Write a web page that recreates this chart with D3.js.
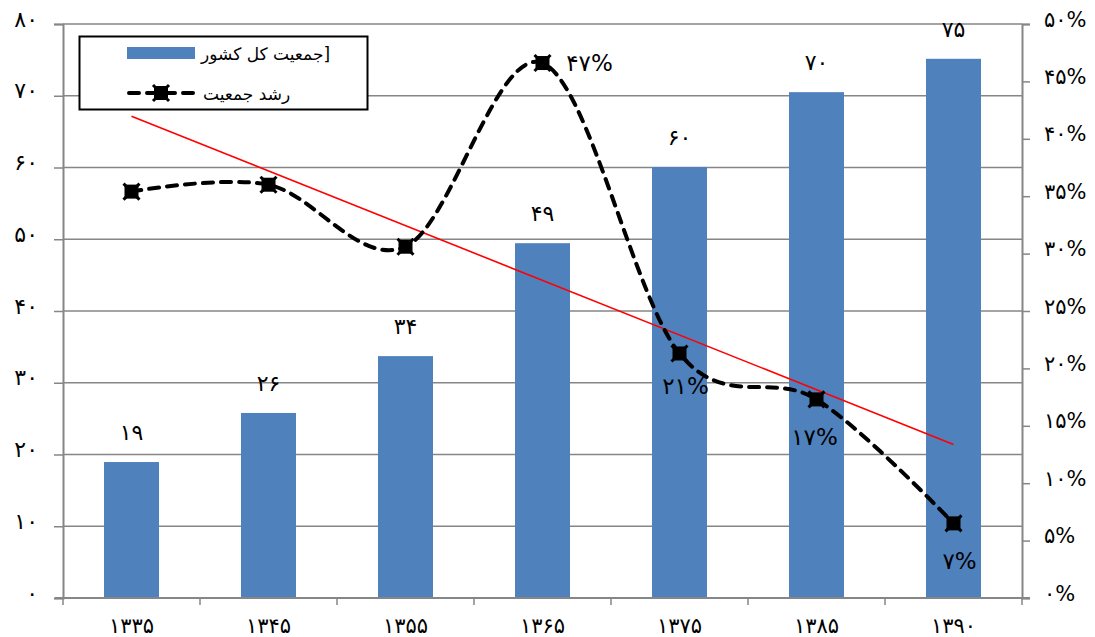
<!DOCTYPE html>
<html>
<head>
<meta charset="utf-8">
<script src="https://cdn.jsdelivr.net/npm/d3@7"></script>
<style>
  html, body { margin: 0; padding: 0; background: #fff; }
  svg { display: block; }
  text { font-family: "DejaVu Sans", "Noto Sans", sans-serif; fill: #000; }
</style>
</head>
<body>
<svg id="chart" width="1095" height="637"></svg>
<script>
// ---- data ----
const categories = ["۱۳۳۵", "۱۳۴۵", "۱۳۵۵", "۱۳۶۵", "۱۳۷۵", "۱۳۸۵", "۱۳۹۰"];
const population = [18.95, 25.79, 33.71, 49.45, 60.06, 70.50, 75.15];
const populationLabels = ["۱۹", "۲۶", "۳۴", "۴۹", "۶۰", "۷۰", "۷۵"];
const growth = [0.354, 0.360, 0.306, 0.466, 0.213, 0.173, 0.065];
const growthLabels = ["", "", "", "۴۷%", "۲۱%", "۱۷%", "۷%"];
const leftTicks = [0, 10, 20, 30, 40, 50, 60, 70, 80];
const leftTickLabels = ["۰", "۱۰", "۲۰", "۳۰", "۴۰", "۵۰", "۶۰", "۷۰", "۸۰"];
const rightTicks = [0, 0.05, 0.10, 0.15, 0.20, 0.25, 0.30, 0.35, 0.40, 0.45, 0.50];
const rightTickLabels = ["۰%", "۵%", "۱۰%", "۱۵%", "۲۰%", "۲۵%", "۳۰%", "۳۵%", "۴۰%", "۴۵%", "۵۰%"];
const legendLabels = ["جمعیت کل کشور]", "رشد جمعیت"];

// ---- layout ----
const svg = d3.select("#chart");
const plot = { left: 63, right: 1022, top: 24, bottom: 598 };
const axisColor = "#868686";
const barColor = "#4F81BD";

const xBand = d3.scaleBand().domain(categories).range([plot.left, plot.right]);
const yL = d3.scaleLinear().domain([0, 80]).range([plot.bottom, plot.top]);
const yR = d3.scaleLinear().domain([0, 0.5]).range([plot.bottom, plot.top]);
const cx = i => xBand(categories[i]) + xBand.bandwidth() / 2;

// gridlines
svg.append("g").selectAll("line").data(leftTicks.slice(1)).join("line")
  .attr("x1", plot.left).attr("x2", plot.right)
  .attr("y1", d => yL(d)).attr("y2", d => yL(d))
  .attr("stroke", axisColor).attr("stroke-width", 1.5);

// bars
svg.append("g").selectAll("rect").data(population).join("rect")
  .attr("x", (d, i) => cx(i) - 27.5)
  .attr("width", 55)
  .attr("y", d => yL(d))
  .attr("height", d => yL(0) - yL(d))
  .attr("fill", barColor);

// bar labels
svg.append("g").selectAll("text").data(population).join("text")
  .attr("x", (d, i) => cx(i))
  .attr("y", d => yL(d) - 22)
  .attr("text-anchor", "middle")
  .attr("font-size", 22)
  .text((d, i) => populationLabels[i]);

// left axis
const gL = svg.append("g").attr("transform", `translate(${plot.left},0)`)
  .call(d3.axisLeft(yL).tickValues(leftTicks).tickSize(9).tickPadding(16)
    .tickFormat((d, i) => leftTickLabels[i]));
gL.select(".domain").attr("stroke", axisColor).attr("stroke-width", 2);
gL.selectAll(".tick line").attr("stroke", axisColor).attr("stroke-width", 1.5);
gL.selectAll(".tick text").attr("font-size", 22).attr("font-family", "DejaVu Sans").attr("dy", "0.1em");

// right axis
const gR = svg.append("g").attr("transform", `translate(${plot.right},0)`)
  .call(d3.axisRight(yR).tickValues(rightTicks).tickSize(8).tickPadding(14)
    .tickFormat((d, i) => rightTickLabels[i]));
gR.select(".domain").attr("stroke", axisColor).attr("stroke-width", 2);
gR.selectAll(".tick line").attr("stroke", axisColor).attr("stroke-width", 1.5);
gR.selectAll(".tick text").attr("font-size", 21).attr("font-family", "DejaVu Sans").attr("dy", "0.1em");

// bottom axis
const boundaries = categories.map(c => xBand(c)).concat([plot.right]);
const gB = svg.append("g");
gB.append("line").attr("x1", plot.left - 8).attr("x2", plot.right + 8)
  .attr("y1", plot.bottom).attr("y2", plot.bottom)
  .attr("stroke", axisColor).attr("stroke-width", 2);
gB.selectAll("line.tk").data(boundaries).join("line").attr("class", "tk")
  .attr("x1", d => d).attr("x2", d => d)
  .attr("y1", plot.bottom).attr("y2", plot.bottom + 7)
  .attr("stroke", axisColor).attr("stroke-width", 1.5);
gB.selectAll("text").data(categories).join("text")
  .attr("x", d => xBand(d) + xBand.bandwidth() / 2)
  .attr("y", 633)
  .attr("text-anchor", "middle")
  .attr("font-size", 21)
  .text(d => d);

// trend line (linear regression of growth)
const n = growth.length;
const mx = d3.mean(d3.range(n));
const my = d3.mean(growth);
const sxy = d3.sum(growth, (g, i) => (i - mx) * (g - my));
const sxx = d3.sum(d3.range(n), i => (i - mx) * (i - mx));
const slope = sxy / sxx;
const icpt = my - slope * mx;
svg.append("line")
  .attr("x1", cx(0)).attr("y1", yR(icpt))
  .attr("x2", cx(n - 1)).attr("y2", yR(icpt + slope * (n - 1)))
  .attr("stroke", "#FF0000").attr("stroke-width", 1.6);

// growth line
const line = d3.line().x((d, i) => cx(i)).y(d => yR(d)).curve(d3.curveCardinal.tension(0));
svg.append("path").datum(growth)
  .attr("d", line)
  .attr("fill", "none").attr("stroke", "#000").attr("stroke-width", 4)
  .attr("stroke-dasharray", "10,8").attr("stroke-linecap", "round");

function marker(g, px, py) {
  g.append("rect").attr("x", px - 7).attr("y", py - 7).attr("width", 14).attr("height", 14).attr("fill", "#000");
  g.append("path").attr("d", `M${px - 8},${py - 8}L${px + 8},${py + 8}M${px + 8},${py - 8}L${px - 8},${py + 8}`)
    .attr("stroke", "#000").attr("stroke-width", 3);
}
const mg = svg.append("g");
growth.forEach((d, i) => marker(mg, cx(i), yR(d)));

// growth labels
const labelOffsets = [[0, 0], [0, 0], [0, 0], [47, 8], [6, 41], [-2, 46], [6, 46]];
svg.append("g").selectAll("text").data(growth).join("text")
  .attr("x", (d, i) => cx(i) + labelOffsets[i][0])
  .attr("y", (d, i) => yR(d) + labelOffsets[i][1])
  .attr("text-anchor", "middle")
  .attr("font-size", 23)
  .text((d, i) => growthLabels[i]);

// legend
const lg = svg.append("g");
lg.append("rect").attr("x", 79.5).attr("y", 36.5).attr("width", 288).attr("height", 73)
  .attr("fill", "#fff").attr("stroke", "#000").attr("stroke-width", 2);
lg.append("rect").attr("x", 127).attr("y", 47).attr("width", 68).attr("height", 12).attr("fill", barColor);
lg.append("text").attr("x", 201).attr("y", 60).attr("font-size", 17).attr("direction", "ltr")
  .text(legendLabels[0]);
lg.append("line").attr("x1", 129).attr("x2", 194).attr("y1", 93).attr("y2", 93)
  .attr("stroke", "#000").attr("stroke-width", 4).attr("stroke-dasharray", "10,8").attr("stroke-linecap", "round");
marker(lg, 161, 93);
lg.append("text").attr("x", 203).attr("y", 100).attr("font-size", 17)
  .text(legendLabels[1]);
</script>
</body>
</html>
